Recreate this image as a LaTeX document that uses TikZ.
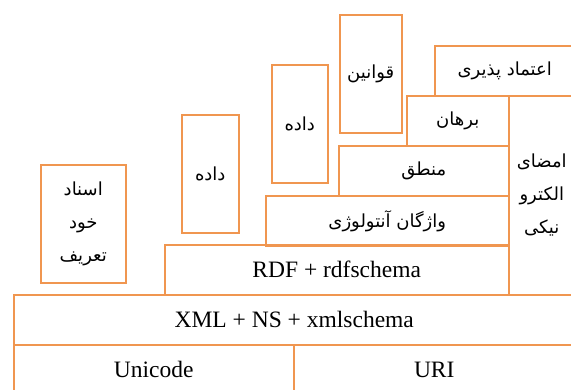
\documentclass[tikz,border=0pt]{standalone}
\usepackage{fontspec}
\TeXXeTstate=1
\newfontfamily\latinfont{Liberation Serif}
\newfontfamily\farsifont[Script=Arabic]{DejaVu Sans}
\definecolor{layerorange}{RGB}{240,150,80}
\newcommand*{\fatext}[1]{\beginR #1\endR}

\begin{document}
\begin{tikzpicture}
[
	x=1pt,
	y=-1pt,
	layer/.style={draw=layerorange,line width=1.5pt,inner sep=0pt,anchor=north west,align=center},
	latin/.style={font=\latinfont\fontsize{23.5}{28}\selectfont},
	farsi/.style={font=\farsifont\fontsize{18}{33}\selectfont}
]

	\clip (0,0) rectangle (571,389);

	% bottom layers
	\node[layer,latin,minimum width=280pt,minimum height=50pt] (unicode) at (13,344) {Unicode};
	\node[layer,latin,minimum width=281pt,minimum height=50pt] (uri) at (293,344) {URI};
	\node[layer,latin,minimum width=561pt,minimum height=50pt] (xml) at (13,294) {XML + NS + xmlschema};
	\node[layer,latin,minimum width=344pt,minimum height=50pt] (rdf) at (164,244) {RDF + rdfschema};

	% upper layers
	\node[layer,farsi,minimum width=243pt,minimum height=50pt] (vocab) at (265,195) {\fatext{واژگان آنتولوژی}};
	\node[layer,farsi,minimum width=170pt,minimum height=50pt] (logic) at (338,145) {\fatext{منطق}};
	\node[layer,farsi,minimum width=102pt,minimum height=50pt] (proof) at (406,95) {\fatext{برهان}};
	\node[layer,farsi,minimum width=140pt,minimum height=50pt] (trust) at (434,45) {\fatext{اعتماد پذیری}};
	\node[layer,farsi,minimum width=66pt,minimum height=199pt] (sign) at (508,95)
		{\fatext{امضای}\\\fatext{الکترو}\\\fatext{نیکی}};

	% side blocks
	\node[layer,farsi,minimum width=62pt,minimum height=118pt] (rules) at (339,14) {\fatext{قوانین}};
	\node[layer,farsi,minimum width=56pt,minimum height=118pt] (datab) at (271,64) {\fatext{داده}};
	\node[layer,farsi,minimum width=57pt,minimum height=118pt] (dataa) at (181,114) {\fatext{داده}};
	\node[layer,farsi,minimum width=85pt,minimum height=118pt] (selfdoc) at (40,164)
		{\fatext{اسناد}\\\fatext{خود}\\\fatext{تعریف}};

\end{tikzpicture}
\end{document}
